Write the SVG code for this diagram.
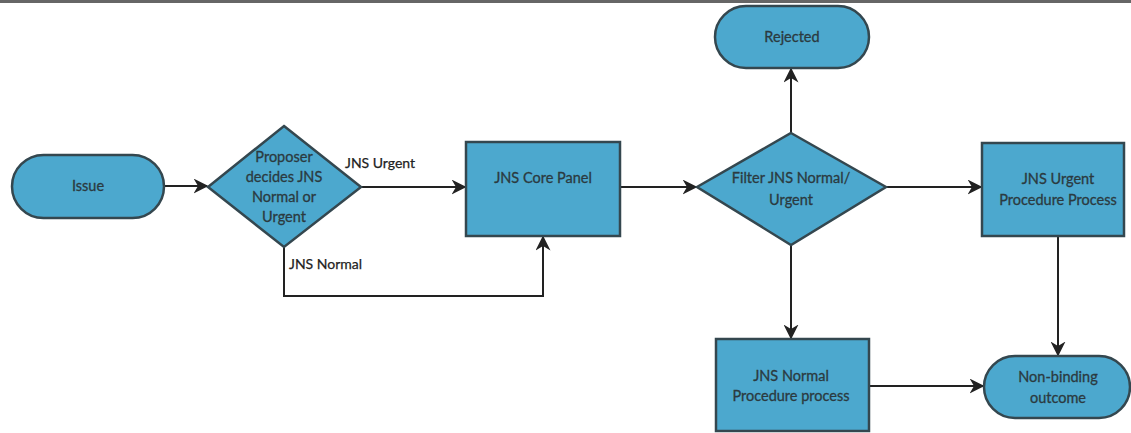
<svg xmlns="http://www.w3.org/2000/svg" width="1131" height="433" viewBox="0 0 1131 433">
<style>
.n{fill:#4ca8ce;stroke:#34474f;stroke-width:2.5}
.t{font-family:Lato,"Open Sans",sans-serif;font-size:14.5px;fill:#2b3a40;text-anchor:middle;stroke:#2b3a40;stroke-width:0.3}
.l{font-family:Lato,"Open Sans",sans-serif;font-size:14px;fill:#222;stroke:#222;stroke-width:0.25}
.c{fill:none;stroke:#222;stroke-width:2}
</style>
<defs>
<marker id="a" viewBox="0 0 10 10" refX="9" refY="5" markerWidth="7.5" markerHeight="7.5" orient="auto" markerUnits="strokeWidth">
<path d="M0,0 L10,5 L0,10 L3,5 z" fill="#222"/>
</marker>
</defs>
<rect width="1131" height="433" fill="#fff"/>
<line x1="0" y1="1.5" x2="1131" y2="1.5" stroke="#666" stroke-width="3"/>
<g id="connectors">
<path class="c" d="M164,186 H207" marker-end="url(#a)"/>
<path class="c" d="M361,187 H465" marker-end="url(#a)"/>
<path class="c" d="M284,247 V296 H543 V237" marker-end="url(#a)"/>
<path class="c" d="M620,187 H696" marker-end="url(#a)"/>
<path class="c" d="M791,133 V69" marker-end="url(#a)"/>
<path class="c" d="M886,187 H981" marker-end="url(#a)"/>
<path class="c" d="M791,245 V338" marker-end="url(#a)"/>
<path class="c" d="M1058,236 V355" marker-end="url(#a)"/>
<path class="c" d="M869,386 H983" marker-end="url(#a)"/>
<text class="l" x="345" y="168">JNS Urgent</text>
<text class="l" x="289" y="269">JNS Normal</text>
</g>
<g id="issue">
<rect class="n" x="12" y="155" width="152" height="63" rx="31.5"/>
<text class="t" x="88" y="191">Issue</text>
</g>
<g id="proposer">
<polygon class="n" points="284,126 361,187 284,247 208,187"/>
<text class="t" x="284" y="162">Proposer</text>
<text class="t" x="284" y="182">decides JNS</text>
<text class="t" x="284" y="202">Normal or</text>
<text class="t" x="284" y="222">Urgent</text>
</g>
<g id="core">
<rect class="n" x="466" y="142" width="154" height="94"/>
<text class="t" x="543" y="183">JNS Core Panel</text>
</g>
<g id="filter">
<polygon class="n" points="791,133 886,187 791,245 697,187"/>
<text class="t" x="791" y="183">Filter JNS Normal/</text>
<text class="t" x="791" y="205">Urgent</text>
</g>
<g id="rejected">
<rect class="n" x="715" y="6" width="154" height="62" rx="31"/>
<text class="t" x="792" y="42">Rejected</text>
</g>
<g id="urgent">
<rect class="n" x="982" y="143" width="142" height="93"/>
<text class="t" x="1058" y="184">JNS Urgent</text>
<text class="t" x="1058" y="205">Procedure Process</text>
</g>
<g id="normal">
<rect class="n" x="716" y="339" width="153" height="92"/>
<text class="t" x="791" y="381">JNS Normal</text>
<text class="t" x="791" y="401">Procedure process</text>
</g>
<g id="outcome">
<rect class="n" x="984" y="356" width="146" height="62" rx="31"/>
<text class="t" x="1058" y="382">Non-binding</text>
<text class="t" x="1058" y="403">outcome</text>
</g>
</svg>
